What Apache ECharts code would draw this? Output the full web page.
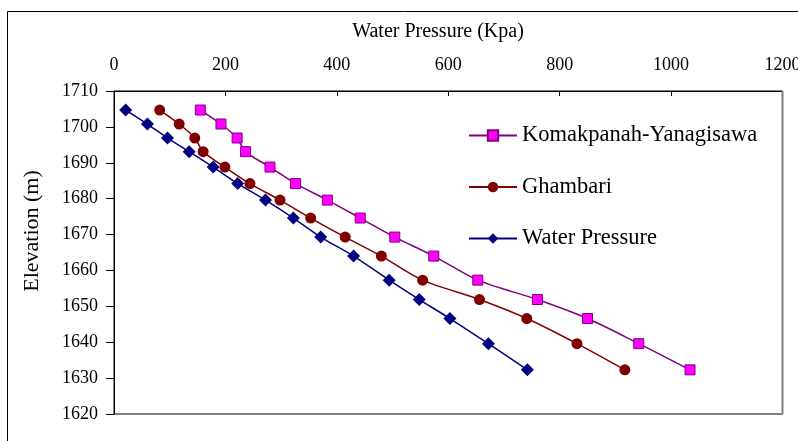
<!DOCTYPE html>
<html>
<head>
<meta charset="utf-8">
<script src="https://cdn.jsdelivr.net/npm/echarts@6/dist/echarts.min.js"></script>
<style>
html,body{margin:0;padding:0;background:#fff;}
#chart{width:798px;height:441px;}
</style>
</head>
<body>
<div id="chart"></div>
<script>
const elevation = [1704.7, 1700.8, 1696.9, 1693.1, 1688.8, 1684.2, 1679.6, 1674.6, 1669.3, 1664.0, 1657.3, 1651.9, 1646.6, 1639.6, 1632.3];
const komakpanah = [155, 192, 221, 236, 280, 326, 383, 442, 504, 574, 653, 760, 850, 942, 1034];
const ghambari = [82, 117, 145, 160, 199, 244, 298, 353, 415, 480, 554, 656, 741, 831, 917];
const waterPressure = [21, 60, 96, 135, 178, 222, 272, 322, 371, 430, 494, 548, 603, 672, 742];
const seriesNames = ['Komakpanah-Yanagisawa', 'Ghambari', 'Water Pressure'];
const xTitle = 'Water Pressure (Kpa)';
const yTitle = 'Elevation (m)';

const FONT = 'Liberation Serif';
function pairs(xs){ return xs.map((x,i)=>[x, elevation[i]]); }

const chart = echarts.init(document.getElementById('chart'), null, {renderer:'canvas'});
chart.setOption({
  animation:false,
  backgroundColor:'#ffffff',
  grid:{left:114, top:91, right:15.5, bottom:27, show:true, borderColor:'#000', borderWidth:1, backgroundColor:'transparent', outerBoundsMode:'none', containLabel:false},
  xAxis:{
    type:'value', position:'top', min:0, max:1200, interval:200,
    axisLine:{show:true, lineStyle:{color:'#000', width:1}},
    axisTick:{show:true, inside:true, length:5, lineStyle:{color:'#000'}},
    axisLabel:{color:'#000', fontFamily:FONT, fontSize:18, margin:17, formatter:(v)=>String(v), showMaxLabel:true},
    splitLine:{show:false}
  },
  yAxis:{
    type:'value', min:1620, max:1710, interval:10,
    axisLine:{show:true, lineStyle:{color:'#000', width:1}},
    axisTick:{show:true, inside:false, length:8, lineStyle:{color:'#000'}},
    axisLabel:{color:'#000', fontFamily:FONT, fontSize:18, margin:16, formatter:(v)=>String(v)},
    splitLine:{show:false}
  },
  legend:{
    orient:'vertical', left:468, top:124, padding:0, itemWidth:48, itemHeight:13, itemGap:28.5,
    textStyle:{color:'#000', fontFamily:FONT, fontSize:22.5, lineHeight:22},
    data:seriesNames
  },
  graphic:[
    {type:'rect', shape:{x:7.5,y:11.5,width:820,height:460}, style:{fill:'none', stroke:'#000', lineWidth:1}, z:-1},
    {type:'line', shape:{x1:782.5, y1:91, x2:782.5, y2:414}, style:{stroke:'#808080', lineWidth:2}, z:100},
    {type:'text', x:438, y:32, style:{text:xTitle, fill:'#000', font:'20px "Liberation Serif"', textAlign:'center', textVerticalAlign:'middle'}},
    {type:'text', x:32, y:231, rotation:Math.PI/2, style:{text:yTitle, fill:'#000', font:'22px "Liberation Serif"', textAlign:'center', textVerticalAlign:'middle'}}
  ],
  series:[
    {name:seriesNames[0], type:'line', data:pairs(komakpanah), smooth:0.3, symbol:'rect', symbolSize:10,
     lineStyle:{color:'#800080', width:1.5}, itemStyle:{color:'#FF00FF', borderColor:'#800080', borderWidth:1}},
    {name:seriesNames[1], type:'line', data:pairs(ghambari), smooth:0.3, symbol:'circle', symbolSize:11,
     lineStyle:{color:'#800000', width:1.5}, itemStyle:{color:'#800000', borderColor:'#800000', borderWidth:0}},
    {name:seriesNames[2], type:'line', data:pairs(waterPressure), smooth:0.3, symbol:'diamond', symbolSize:13,
     lineStyle:{color:'#000080', width:1.5}, itemStyle:{color:'#000080', borderColor:'#000080', borderWidth:0}}
  ]
});
</script>
</body>
</html>
